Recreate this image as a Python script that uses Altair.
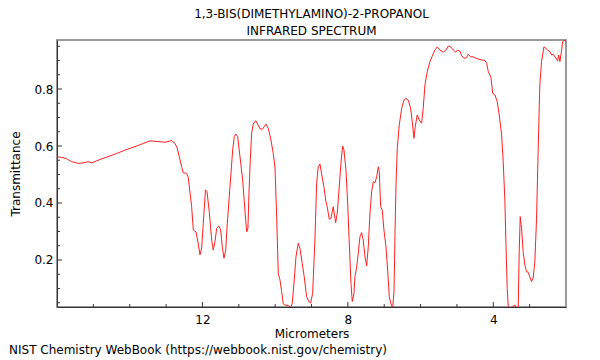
import altair as alt
import pandas as pd

# ---- data ----
wavelength_um = [
    15.99, 15.871, 15.733, 15.596, 15.414, 15.277, 15.139, 15.046, 14.908, 14.727,
    14.543, 14.358, 14.177, 13.992, 13.808, 13.627, 13.442, 13.167, 13.030, 12.846,
    12.755, 12.692, 12.637, 12.571, 12.527, 12.433, 12.389, 12.334, 12.296, 12.252,
    12.177, 12.114, 12.067, 12.021, 11.976, 11.916, 11.875, 11.812, 11.746, 11.702,
    11.655, 11.608, 11.545, 11.498, 11.454, 11.407, 11.360, 11.316, 11.242, 11.168,
    11.124, 11.085, 11.030, 10.967, 10.893, 10.830, 10.783, 10.748, 10.720, 10.684,
    10.646, 10.602, 10.536, 10.481, 10.417, 10.354, 10.299, 10.253, 10.189, 10.115,
    10.052, 10.005, 9.958, 9.914, 9.867, 9.821, 9.777, 9.730, 9.640, 9.566,
    9.529, 9.474, 9.427, 9.364, 9.318, 9.255, 9.200, 9.134, 9.070, 9.024,
    8.969, 8.906, 8.859, 8.815, 8.768, 8.694, 8.658, 8.603, 8.567, 8.512,
    8.465, 8.402, 8.336, 8.292, 8.237, 8.191, 8.143, 8.107, 8.052, 8.005,
    7.961, 7.914, 7.879, 7.832, 7.805, 7.757, 7.713, 7.667, 7.621, 7.577,
    7.530, 7.483, 7.438, 7.392, 7.345, 7.301, 7.254, 7.207, 7.163, 7.136,
    7.098, 7.054, 7.007, 6.952, 6.905, 6.861, 6.814, 6.767, 6.731, 6.704,
    6.676, 6.641, 6.586, 6.520, 6.457, 6.402, 6.339, 6.273, 6.229, 6.182,
    6.147, 6.092, 6.037, 5.971, 5.927, 5.880, 5.817, 5.742, 5.668, 5.605,
    5.541, 5.467, 5.377, 5.302, 5.239, 5.173, 5.101, 5.036, 4.981, 4.917,
    4.870, 4.807, 4.733, 4.689, 4.623, 4.551, 4.477, 4.414, 4.321, 4.230,
    4.182, 4.138, 4.064, 4.017, 3.954, 3.891, 3.836, 3.771, 3.727, 3.680,
    3.653, 3.617, 3.589, 3.543, 3.468, 3.405, 3.342, 3.314, 3.287, 3.259,
    3.222, 3.178, 3.131, 3.085, 3.041, 2.994, 2.948, 2.904, 2.857, 2.810,
    2.767, 2.720, 2.673, 2.606, 2.560, 2.505, 2.441, 2.395, 2.350, 2.304,
    2.257, 2.230, 2.202, 2.167, 2.120, 2.093, 2.030, 2.003,
]
transmittance = [
    0.562, 0.560, 0.555, 0.545, 0.539, 0.541, 0.545, 0.541, 0.548, 0.557,
    0.565, 0.574, 0.583, 0.592, 0.600, 0.609, 0.618, 0.615, 0.613, 0.619,
    0.609, 0.592, 0.562, 0.527, 0.506, 0.504, 0.489, 0.428, 0.387, 0.305,
    0.299, 0.256, 0.218, 0.242, 0.330, 0.446, 0.440, 0.370, 0.270, 0.235,
    0.264, 0.311, 0.319, 0.305, 0.247, 0.206, 0.235, 0.329, 0.457, 0.586,
    0.633, 0.642, 0.633, 0.562, 0.481, 0.372, 0.299, 0.312, 0.434, 0.551,
    0.645, 0.677, 0.689, 0.677, 0.660, 0.659, 0.668, 0.677, 0.662, 0.621,
    0.574, 0.527, 0.352, 0.153, 0.130, 0.089, 0.046, 0.042, 0.040, 0.034,
    0.048, 0.130, 0.212, 0.259, 0.241, 0.188, 0.141, 0.071, 0.054, 0.048,
    0.083, 0.270, 0.469, 0.527, 0.537, 0.481, 0.457, 0.405, 0.387, 0.343,
    0.346, 0.387, 0.331, 0.364, 0.457, 0.539, 0.600, 0.586, 0.516, 0.399,
    0.259, 0.118, 0.054, 0.083, 0.141, 0.176, 0.224, 0.282, 0.296, 0.270,
    0.212, 0.179, 0.247, 0.364, 0.440, 0.475, 0.471, 0.492, 0.527, 0.510,
    0.387, 0.375, 0.305, 0.247, 0.165, 0.071, 0.046, 0.032, 0.088, 0.288,
    0.463, 0.592, 0.674, 0.732, 0.761, 0.767, 0.761, 0.732, 0.685, 0.627,
    0.668, 0.709, 0.691, 0.680, 0.732, 0.814, 0.861, 0.896, 0.919, 0.937,
    0.948, 0.937, 0.929, 0.937, 0.951, 0.948, 0.937, 0.929, 0.937, 0.933,
    0.917, 0.908, 0.910, 0.922, 0.913, 0.913, 0.908, 0.905, 0.902, 0.900,
    0.890, 0.861, 0.840, 0.785, 0.779, 0.755, 0.709, 0.639, 0.545, 0.405,
    0.264, 0.101, 0.036, 0.030, 0.036, 0.042, 0.030, 0.036, 0.229, 0.352,
    0.311, 0.229, 0.182, 0.159, 0.157, 0.141, 0.124, 0.136, 0.194, 0.346,
    0.580, 0.814, 0.896, 0.948, 0.943, 0.937, 0.931, 0.919, 0.922, 0.913,
    0.905, 0.898, 0.919, 0.896, 0.937, 0.966, 0.972, 0.966,
]
x_major = [12, 8, 4]
x_minor = [15, 14, 13, 11, 10, 9, 7, 6, 5, 3]
y_major = [0.2, 0.4, 0.6, 0.8]
y_minor = [0.05, 0.1, 0.15, 0.25, 0.3, 0.35, 0.45, 0.5, 0.55, 0.65, 0.7, 0.75, 0.85, 0.9, 0.95]

title_lines = ["1,3-BIS(DIMETHYLAMINO)-2-PROPANOL", "INFRARED SPECTRUM"]
footer_text = ["NIST Chemistry WebBook (https://webbook.nist.gov/chemistry)"]

assert len(wavelength_um) == len(transmittance)

W, H = 509, 267
FONT = "DejaVu Sans"
AX = "#333333"

df = pd.DataFrame({"um": wavelength_um, "T": transmittance})
xs = alt.Scale(domain=[2, 16], reverse=True, nice=False, zero=False)
ys = alt.Scale(domain=[0.035, 0.972], nice=False, zero=False)

x_axis = alt.Axis(values=x_major, title="Micrometers", ticks=False, grid=False,
                  format="d", labelPadding=7, titlePadding=3, domainColor=AX)
y_axis = alt.Axis(values=y_major, title="Transmittance", ticks=False, grid=False,
                  format=".1f", labelPadding=4, titlePadding=11, domainColor=AX)

line = alt.Chart(df).mark_line(color="#ff2020", strokeWidth=1, clip=True).encode(
    x=alt.X("um:Q", scale=xs, axis=x_axis),
    y=alt.Y("T:Q", scale=ys, axis=y_axis),
)

def xticks(vals, length):
    return alt.Chart(pd.DataFrame({"um": vals})).mark_rule(color=AX, strokeWidth=1).encode(
        x=alt.X("um:Q", scale=xs, axis=x_axis),
        y=alt.value(H), y2=alt.value(H - length))

def yticks(vals, length):
    return alt.Chart(pd.DataFrame({"T": vals})).mark_rule(color=AX, strokeWidth=1).encode(
        y=alt.Y("T:Q", scale=ys, axis=y_axis),
        x=alt.value(0), x2=alt.value(length))

footer = alt.Chart(pd.DataFrame({"t": footer_text})).mark_text(
    align="left", baseline="middle", fontSize=12, font=FONT, color="black"
).encode(text="t:N", x=alt.value(-48), y=alt.value(310))

chart = alt.layer(
    line, xticks(x_major, 5), xticks(x_minor, 3), yticks(y_major, 5), yticks(y_minor, 3), footer
).properties(
    width=W, height=H,
    title=alt.TitleParams(title_lines, fontSize=12, fontWeight="normal", font=FONT,
                          anchor="middle", offset=2, lineHeight=17, color="black"),
    autosize=alt.AutoSizeParams(type="none"),
    padding={"left": 49, "top": 32, "right": 16, "bottom": 50},
).configure_view(
    stroke="#999999", strokeWidth=2
).configure_axis(
    labelFont=FONT, titleFont=FONT, labelFontSize=12, titleFontSize=12,
    labelColor="black", titleColor="black", titleFontWeight="normal", domainWidth=1
)

chart.save("out.html", embed_options={"renderer": "svg", "actions": False})
